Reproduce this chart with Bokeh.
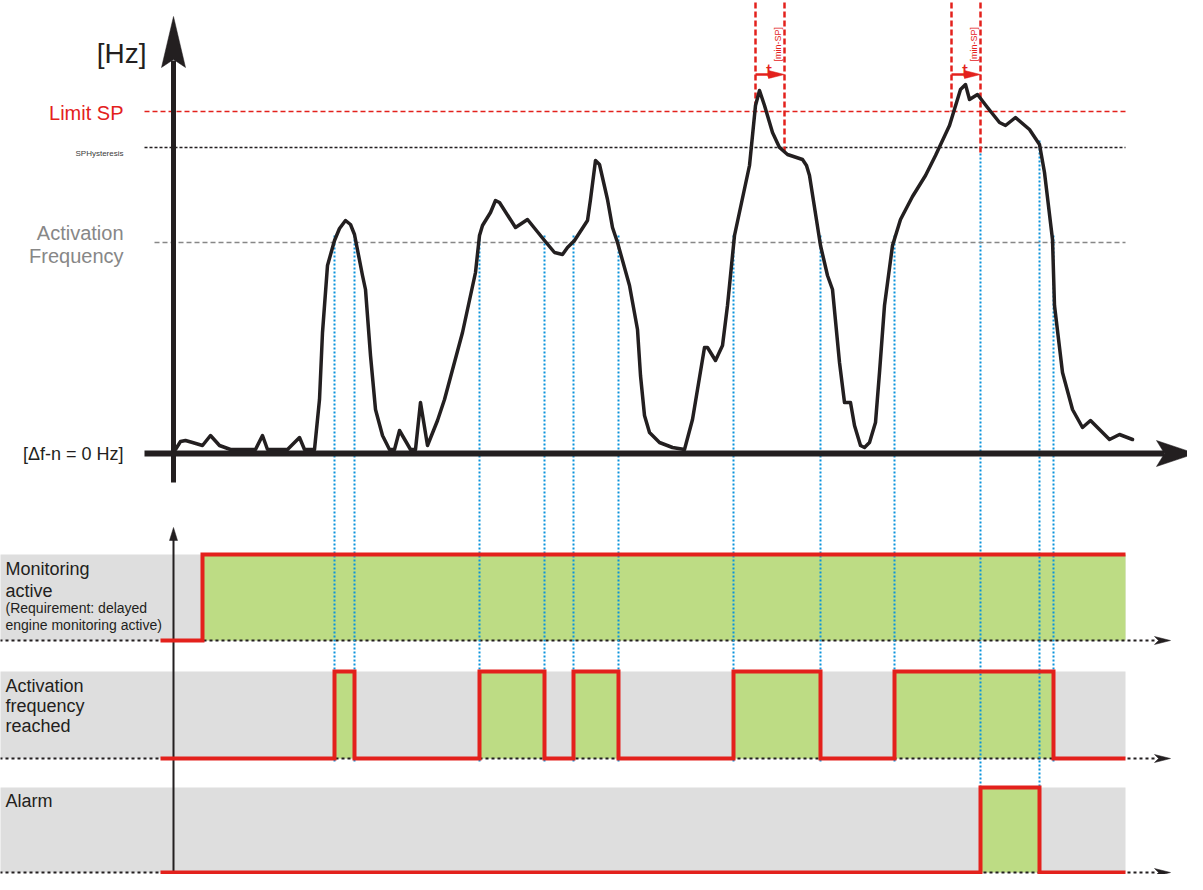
import math
from bokeh.plotting import figure
from bokeh.models import Range1d
from bokeh.core.properties import value
from bokeh.embed import file_html
from bokeh.resources import INLINE

# ---------------- data (time units / Hz units) ----------------
curve_t = [0.0, 0.2, 0.7, 1.2, 1.9, 2.9, 3.7, 4.6, 5.7, 8.2, 8.9, 9.4, 11.4, 12.6, 13.1, 14.1,
           14.6, 14.9, 15.4, 16.1, 16.6, 17.2, 17.7, 18.1, 18.9, 19.2, 19.7, 20.2, 20.9, 21.6,
           22.1, 22.6, 23.7, 24.2, 24.7, 25.4, 26.4, 27.1, 28.9, 30.2, 30.6, 30.9,
           31.7, 32.2, 32.6, 34.2, 35.4, 37.1, 38.1, 38.9, 39.4, 40.1, 41.4, 41.7,
           42.2, 42.6, 43.4, 43.9, 44.4, 45.6, 46.4, 46.7, 47.1, 47.6, 48.6, 49.9,
           51.1, 51.9, 53.1, 53.4, 54.2, 54.9, 55.4, 56.1, 57.6, 58.2, 58.6, 59.1,
           59.9, 60.6, 61.4, 62.9, 63.3, 63.6, 64.7, 65.4, 65.9, 66.6, 67.1, 67.7, 68.1,
           68.7, 69.1, 69.6, 70.2, 70.6, 71.1, 71.9, 72.7, 73.9, 75.2, 76.2, 77.6, 78.7,
           79.2, 79.6, 80.4, 81.4, 82.6, 83.2, 84.2, 85.6, 86.6, 87.1, 87.9, 88.1,
           88.9, 89.9, 90.9, 91.7, 93.6, 94.6, 95.9]
curve_f = [0.3, 0.4, 1.2, 1.3, 1.1, 0.8, 1.8, 0.8, 0.4, 0.4, 1.8, 0.4, 0.4, 1.6, 0.4, 0.4,
           5.4, 12.1, 18.8, 21.3, 22.5, 23.3, 22.9, 21.9, 17.8, 16.4, 9.8, 4.4, 1.8, 0.4,
           0.4, 2.3, 0.4, 0.4, 5.1, 0.8, 3.3, 5.4, 12.1, 18.1, 21.8, 22.8,
           24.1, 25.3, 25.1, 22.6, 23.4, 21.3, 20.1, 19.9, 20.6, 21.3, 23.3, 25.4,
           29.3, 28.9, 25.4, 22.6, 21.1, 16.8, 12.4, 7.8, 3.8, 2.1, 1.1, 0.6,
           0.4, 3.4, 10.6, 10.6, 9.3, 10.8, 14.8, 21.8, 28.8, 34.8, 36.3, 34.8,
           32.1, 30.6, 29.9, 29.4, 28.8, 27.8, 20.8, 17.8, 16.4, 9.1, 5.1, 5.1, 2.8,
           0.8, 0.6, 1.1, 3.1, 8.1, 14.8, 20.8, 23.4, 25.7, 27.8, 29.8, 32.8, 36.4,
           36.9, 35.4, 35.9, 34.6, 33.1, 32.8, 33.6, 32.4, 30.9, 28.1, 21.4, 14.8,
           8.1, 4.4, 2.6, 3.3, 1.4, 1.9, 1.4]

LIMIT_SP = 34.2
SP_HYST = 30.6
ACT_FREQ = 21.1

monitor_on = [2.9]
act_on = [16.1, 30.6, 40.0, 56.0, 72.1]
act_off = [18.1, 37.1, 44.5, 64.7, 88.0]
timer_start = [58.2, 77.8]
T_MIN_SP = 2.9
alarm_on = [80.7]
alarm_off = [86.6]

row_titles = [["Monitoring", "active"], ["Activation", "frequency", "reached"], ["Alarm"]]
row_notes = ["(Requirement: delayed", "engine monitoring active)"]

# ---------------- layout helpers (page pixels -> data units) ----------------
W, H = 1187, 874
def X(px):
    return (px - 181) / 10.0
def Y(py):
    return (461 - py) / 10.0

RED = "#e3211c"
BLACK = "#231f20"
BLUE = "#0a93dc"
GREEN = "#bddc84"
BAND = "#dedede"
GRAY = "#878787"
FONT = value("Liberation Sans")

p = figure(width=W, height=H, x_range=Range1d(X(8), X(8 + W)),
           y_range=Range1d(Y(8 + H), Y(8)), output_backend="svg",
           toolbar_location=None, x_axis_location=None, y_axis_location=None,
           min_border=0, outline_line_color=None)
p.grid.grid_line_color = None
p.background_fill_color = "white"
p.border_fill_color = "white"

rows_top = [Y(562), Y(679), Y(795)]
rows_bot = [Y(648), Y(766), Y(880)]
band_l, band_r = X(7), X(1133)
sig_start = X(168)

# gray bands
p.quad(left=[band_l] * 3, right=[band_r] * 3, top=rows_top, bottom=rows_bot,
       fill_color=BAND, line_color=None)

# green fills
p.quad(left=monitor_on, right=[band_r], top=[rows_top[0]], bottom=[rows_bot[0]],
       fill_color=GREEN, line_color=None)
p.quad(left=act_on, right=act_off, top=[rows_top[1]] * len(act_on),
       bottom=[rows_bot[1]] * len(act_on), fill_color=GREEN, line_color=None)
p.quad(left=alarm_on, right=alarm_off, top=[rows_top[2]] * len(alarm_on),
       bottom=[rows_bot[2]] * len(alarm_on), fill_color=GREEN, line_color=None)

# row dotted time lines + arrow heads
for yb in rows_bot:
    p.segment(x0=[band_l], y0=[yb], x1=[X(1164)], y1=[yb], line_color=BLACK,
              line_width=2, line_dash="3 3")
    p.patch([X(1162), X(1178), X(1162), X(1166)], [yb + 0.4, yb, yb - 0.4, yb],
            fill_color=BLACK, line_color=BLACK, line_width=0.5)

# blue dotted helper lines
act_cross = sorted(act_on + act_off)
p.segment(x0=act_cross, y0=[ACT_FREQ + 0.7] * len(act_cross), x1=act_cross,
          y1=[Y(770)] * len(act_cross), line_color=BLUE, line_width=2, line_dash="2 2")
p.segment(x0=alarm_on, y0=[SP_HYST - 0.6] * len(alarm_on), x1=alarm_on,
          y1=[Y(890)] * len(alarm_on), line_color=BLUE, line_width=2, line_dash="2 2")
p.segment(x0=alarm_off, y0=[SP_HYST + 0.7] * len(alarm_off), x1=alarm_off,
          y1=[Y(890)] * len(alarm_off), line_color=BLUE, line_width=2, line_dash="2 2")

# threshold lines
p.segment(x0=[X(152)], y0=[LIMIT_SP], x1=[X(1133)], y1=[LIMIT_SP], line_color=RED,
          line_width=1.5, line_dash="5 3")
p.segment(x0=[X(152)], y0=[SP_HYST], x1=[X(1133)], y1=[SP_HYST], line_color=BLACK,
          line_width=1.5, line_dash="3 2")
p.segment(x0=[X(162)], y0=[ACT_FREQ], x1=[X(1133)], y1=[ACT_FREQ], line_color=GRAY,
          line_width=1.5, line_dash="5 3")

# timer t(min-SP) markers
for ts in timer_start:
    te = ts + T_MIN_SP
    p.segment(x0=[ts], y0=[Y(10)], x1=[ts], y1=[LIMIT_SP], line_color=RED,
              line_width=2.5, line_dash="6 3")
    p.segment(x0=[te], y0=[Y(10)], x1=[te], y1=[SP_HYST - 0.6], line_color=RED,
              line_width=2.5, line_dash="6 3")
    p.segment(x0=[ts], y0=[Y(82)], x1=[te - 1.0], y1=[Y(82)], line_color=RED, line_width=2.5)
    p.patch([te - 1.6, te, te - 1.6], [Y(78), Y(82), Y(86)], fill_color=RED,
            line_color=RED, line_width=0.5)
    p.text(x=[ts + 1.35], y=[Y(78)], text=["t"],
           text_font=FONT, text_font_size=value("21px"), text_color=RED,
           text_align="center", text_baseline="alphabetic")
    p.text(x=[ts + 2.2], y=[Y(69)], text=["[min-SP]"], angle=math.pi / 2,
           text_font=FONT, text_font_size=value("9px"), text_color=RED,
           text_align="left", text_baseline="alphabetic")

# frequency curve
p.line(curve_t, curve_f, line_color=BLACK, line_width=3.5, line_join="round",
       line_cap="round")

# main axes
p.segment(x0=[0], y0=[Y(490)], x1=[0], y1=[Y(68)], line_color=BLACK, line_width=5)
p.patch([0, X(169), 0, X(193)], [Y(24), Y(75), Y(67), Y(75)], fill_color=BLACK,
        line_color=BLACK, line_width=0.5)
p.segment(x0=[X(152)], y0=[0], x1=[X(1172)], y1=[0], line_color=BLACK, line_width=6)
p.patch([X(1164), X(1203), X(1164), X(1172)], [Y(448), 0, Y(474), 0],
        fill_color=BLACK, line_color=BLACK, line_width=0.5)

# lower time axis
p.segment(x0=[0], y0=[Y(546)], x1=[0], y1=[Y(890)], line_color=BLACK, line_width=2)
p.patch([X(177), 0, X(185)], [Y(548), Y(535), Y(548)], fill_color=BLACK,
        line_color=BLACK, line_width=0.5)

# red signal lines
def step_path(ons, offs, t0, t1, lo, hi):
    xs, ys = [t0], [lo]
    for i, a in enumerate(ons):
        xs += [a, a]
        ys += [lo, hi]
        if i < len(offs):
            xs += [offs[i], offs[i]]
            ys += [hi, lo]
    xs.append(t1)
    ys.append(ys[-1])
    return xs, ys

for ons, offs, k in [(monitor_on, [], 0), (act_on, act_off, 1), (alarm_on, alarm_off, 2)]:
    xs, ys = step_path(ons, offs, sig_start, band_r, rows_bot[k], rows_top[k])
    p.line(xs, ys, line_color=RED, line_width=4, line_join="miter")

# ---------------- texts ----------------
def label(x, y, s, size, color=BLACK, align="left"):
    p.text(x=[x], y=[y], text=[s], text_font=FONT, text_font_size=value(size),
           text_color=color, text_align=align, text_baseline="middle")

label(X(154), Y(61), "[Hz]", "28px", BLACK, "right")
label(X(131), Y(120), "Limit SP", "20px", RED, "right")
label(X(131), Y(161), "SPHysteresis", "8px", "#3a3a3a", "right")
label(X(131), Y(240), "Activation", "20px", GRAY, "right")
label(X(131), Y(263), "Frequency", "20px", GRAY, "right")
label(X(131), Y(461), "[\u0394f-n = 0 Hz]", "18px", BLACK, "right")

row_line_y = [[576, 598], [693, 713, 733], [808]]
for titles, ys in zip(row_titles, row_line_y):
    for s, yy in zip(titles, ys):
        label(X(13), Y(yy), s, "18px")
for s, yy in zip(row_notes, [615, 632]):
    label(X(13), Y(yy), s, "14px")

open("out.html", "w").write(file_html(p, INLINE))
